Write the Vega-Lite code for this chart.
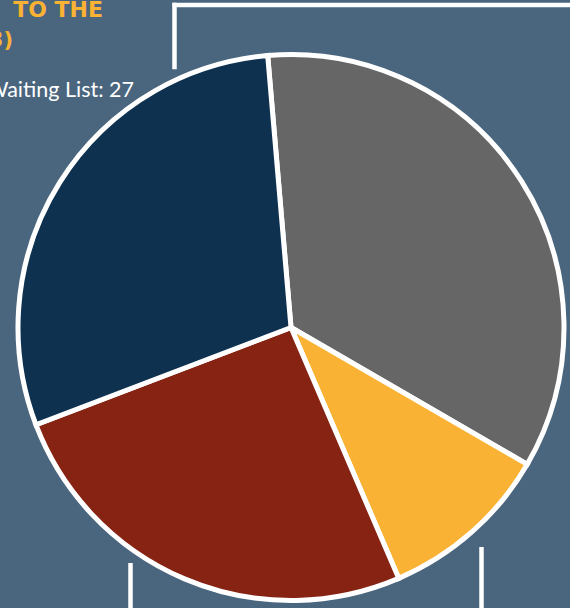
{
  "$schema": "https://vega.github.io/schema/vega-lite/v6.json",
  "width": 570,
  "height": 608,
  "autosize": {"type": "none"},
  "padding": 0,
  "background": "#4a657e",
  "config": {"view": {"stroke": null}},
  "datasets": {
    "pie": [
      {"segment": "Group 1", "count": 92, "seq": 1},
      {"segment": "Waiting List", "count": 27, "seq": 2},
      {"segment": "Group 3", "count": 68, "seq": 3},
      {"segment": "Group 4", "count": 78, "seq": 4}
    ]
  },
  "layer": [
    {
      "data": {"values": [{}]},
      "mark": {"type": "rule", "stroke": "white", "strokeWidth": 4.5, "strokeCap": "square"},
      "encoding": {
        "x": {"datum": 174.5, "type": "quantitative", "scale": {"domain": [0, 570], "nice": false, "zero": false}, "axis": null},
        "y": {"datum": 5, "type": "quantitative", "scale": {"domain": [0, 608], "reverse": true, "nice": false, "zero": false}, "axis": null},
        "y2": {"datum": 67}
      }
    },
    {
      "data": {"values": [{}]},
      "mark": {"type": "rule", "stroke": "white", "strokeWidth": 4.5},
      "encoding": {
        "x": {"datum": 172.5, "type": "quantitative"},
        "x2": {"datum": 575},
        "y": {"datum": 5, "type": "quantitative"}
      }
    },
    {
      "data": {"values": [{}]},
      "mark": {"type": "rule", "stroke": "white", "strokeWidth": 4.5},
      "encoding": {
        "x": {"datum": 130.5, "type": "quantitative"},
        "y": {"datum": 563, "type": "quantitative"},
        "y2": {"datum": 615}
      }
    },
    {
      "data": {"values": [{}]},
      "mark": {"type": "rule", "stroke": "white", "strokeWidth": 4.5},
      "encoding": {
        "x": {"datum": 481.5, "type": "quantitative"},
        "y": {"datum": 547, "type": "quantitative"},
        "y2": {"datum": 615}
      }
    },
    {
      "data": {"name": "pie"},
      "mark": {"type": "arc", "outerRadius": 273, "stroke": "white", "strokeWidth": 5},
      "encoding": {
        "x": {"datum": 291, "type": "quantitative"},
        "y": {"datum": 327.5, "type": "quantitative"},
        "theta": {"field": "count", "type": "quantitative", "stack": true, "scale": {"range": [-0.0855, 6.1977]}},
        "order": {"field": "seq", "type": "quantitative"},
        "color": {
          "field": "segment",
          "type": "nominal",
          "scale": {
            "domain": ["Group 1", "Waiting List", "Group 3", "Group 4"],
            "range": ["#666666", "#f9b233", "#862312", "#0e3150"]
          },
          "legend": null
        }
      }
    },
    {
      "data": {"values": [{}]},
      "mark": {"type": "text", "text": "TO THE", "align": "right", "baseline": "alphabetic", "font": "DejaVu Sans", "fontWeight": "bold", "fontSize": 22, "fill": "#f9b233"},
      "encoding": {
        "x": {"datum": 103, "type": "quantitative"},
        "y": {"datum": 17, "type": "quantitative"}
      }
    },
    {
      "data": {"values": [{}]},
      "mark": {"type": "text", "text": "(2013)", "align": "right", "baseline": "alphabetic", "font": "DejaVu Sans", "fontWeight": "bold", "fontSize": 21, "fill": "#f9b233"},
      "encoding": {
        "x": {"datum": 13, "type": "quantitative"},
        "y": {"datum": 47, "type": "quantitative"}
      }
    },
    {
      "data": {"values": [{}]},
      "mark": {"type": "text", "text": "Waiting List: 27", "align": "right", "baseline": "alphabetic", "font": "Lato", "fontSize": 21.5, "fill": "white"},
      "encoding": {
        "x": {"datum": 134, "type": "quantitative"},
        "y": {"datum": 97, "type": "quantitative"}
      }
    }
  ]
}
